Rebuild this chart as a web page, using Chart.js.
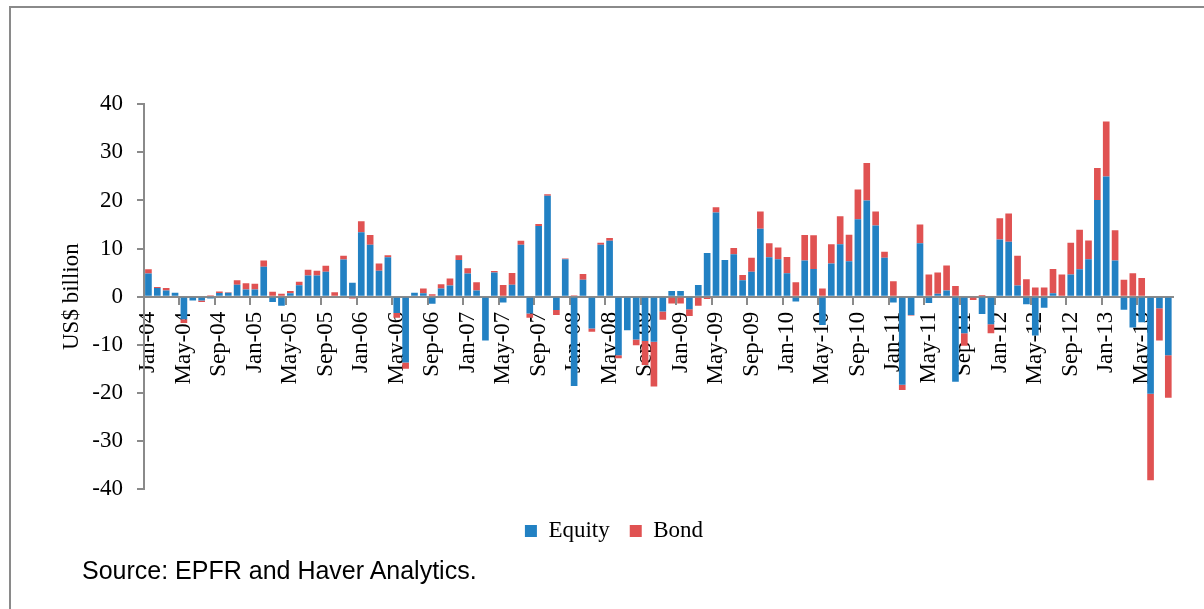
<!DOCTYPE html>
<html>
<head>
<meta charset="utf-8">
<script src="https://cdn.jsdelivr.net/npm/chart.js@4"></script>
<style>
html,body{margin:0;padding:0;background:#fff;overflow:hidden;}
#wrap{position:relative;width:1204px;height:609px;overflow:hidden;background:#fff;}
#frame{position:absolute;left:9px;top:6px;width:1300px;height:700px;border:2px solid #8a8a8a;}
#c{position:absolute;left:0;top:0;}
#src{position:absolute;left:82px;top:558px;font-family:"Liberation Sans",Arial,sans-serif;font-size:25px;line-height:25px;color:#000;white-space:nowrap;}
</style>
</head>
<body>
<div id="wrap">
  <div id="frame"></div>
  <canvas id="c" width="1204" height="609"></canvas>
  <div id="src">Source: EPFR and Haver Analytics.</div>
</div>
<script>
const categories = [
 'Jan-04','Feb-04','Mar-04','Apr-04','May-04','Jun-04','Jul-04','Aug-04','Sep-04','Oct-04','Nov-04','Dec-04',
 'Jan-05','Feb-05','Mar-05','Apr-05','May-05','Jun-05','Jul-05','Aug-05','Sep-05','Oct-05','Nov-05','Dec-05',
 'Jan-06','Feb-06','Mar-06','Apr-06','May-06','Jun-06','Jul-06','Aug-06','Sep-06','Oct-06','Nov-06','Dec-06',
 'Jan-07','Feb-07','Mar-07','Apr-07','May-07','Jun-07','Jul-07','Aug-07','Sep-07','Oct-07','Nov-07','Dec-07',
 'Jan-08','Feb-08','Mar-08','Apr-08','May-08','Jun-08','Jul-08','Aug-08','Sep-08','Oct-08','Nov-08','Dec-08',
 'Jan-09','Feb-09','Mar-09','Apr-09','May-09','Jun-09','Jul-09','Aug-09','Sep-09','Oct-09','Nov-09','Dec-09',
 'Jan-10','Feb-10','Mar-10','Apr-10','May-10','Jun-10','Jul-10','Aug-10','Sep-10','Oct-10','Nov-10','Dec-10',
 'Jan-11','Feb-11','Mar-11','Apr-11','May-11','Jun-11','Jul-11','Aug-11','Sep-11','Oct-11','Nov-11','Dec-11',
 'Jan-12','Feb-12','Mar-12','Apr-12','May-12','Jun-12','Jul-12','Aug-12','Sep-12','Oct-12','Nov-12','Dec-12',
 'Jan-13','Feb-13','Mar-13','Apr-13','May-13','Jun-13','Jul-13','Aug-13'
];

const equity = [
 4.8, 1.8, 1.3, 0.8, -4.7, -0.8, -0.8, -0.4, 0.75, 0.8, 2.5, 1.5,
 1.5, 6.2, -1.1, -1.9, 0.7, 2.35, 4.4, 4.4, 5.2, 0, 7.7, 2.9,
 13.4, 10.8, 5.4, 8.2, -3.4, -13.7, 0.8, 0.7, -1.5, 1.7, 2.3, 7.6,
 4.8, 1.3, -9.1, 5.0, -1.2, 2.5, 10.8, -3.5, 14.7, 21.0, -2.8, 7.8,
 -18.6, 3.5, -6.6, 10.8, 11.6, -12.2, -7.0, -8.9, -9.2, -9.4, -3.1, 1.2,
 1.2, -2.6, 2.4, 9.1, 17.5, 7.6, 8.8, 3.4, 5.2, 14.1, 8.2, 7.8,
 4.85, -1.0, 7.5, 5.75, -5.9, 6.9, 10.9, 7.35, 16.1, 20.0, 14.8, 8.1,
 -1.2, -18.3, -3.8, 11.1, -1.3, 0.6, 1.3, -17.7, -7.6, 0, -3.6, -5.75,
 11.9, 11.4, 2.3, -1.6, -8.1, -2.3, 0.7, 0, 4.6, 5.7, 7.8, 20.1,
 25.0, 7.5, -2.7, -6.4, -5.3, -20.2, -2.4, -12.2
];

const bond = [
 0.9, 0.2, 0.5, 0, -0.8, 0, -0.3, 0.3, 0.3, 0.1, 0.9, 1.3,
 1.2, 1.3, 1.0, 0.6, 0.5, 0.75, 1.2, 1.0, 1.25, 0.9, 0.8, -0.4,
 2.3, 2.0, 1.5, 0.4, -1.0, -1.3, 0, 1.0, 0.5, 0.9, 1.45, 1.0,
 1.1, 1.7, 0, 0.35, 2.4, 2.4, 0.8, -0.9, 0.4, 0.3, -1.0, 0.15,
 0.3, 1.2, -0.7, 0.4, 0.6, -0.6, 0, -1.2, -5.0, -9.3, -1.7, -1.4,
 -1.4, -1.4, -1.9, -0.5, 1.1, 0, 1.3, 1.1, 2.9, 3.6, 2.9, 2.4,
 3.4, 3.0, 5.3, 7.0, 1.7, 4.0, 5.8, 5.5, 6.2, 7.8, 2.9, 1.25,
 3.2, -1.1, -0.1, 3.9, 4.6, 4.4, 5.2, 2.2, -2.6, -0.7, 0.35, -1.85,
 4.4, 5.9, 6.2, 3.6, 1.9, 1.9, 5.05, 4.6, 6.6, 8.2, 3.9, 6.65,
 11.4, 6.3, 3.5, 4.85, 3.9, -18.0, -6.7, -8.8
];

const tickLabels = [
 'Jan-04','May-04','Sep-04','Jan-05','May-05','Sep-05','Jan-06','May-06','Sep-06',
 'Jan-07','May-07','Sep-07','Jan-08','May-08','Sep-08','Jan-09','May-09','Sep-09',
 'Jan-10','May-10','Sep-10','Jan-11','May-11','Sep-11','Jan-12','May-12','Sep-12',
 'Jan-13','May-13'
];

const seriesNames = ['Equity', 'Bond'];
const BLUE = '#2281C3';
const RED = '#E05252';
const AXIS = '#8a8a8a';
const SERIF = '"Liberation Serif", "Times New Roman", serif';

Chart.defaults.font.family = SERIF;

new Chart(document.getElementById('c'), {
  type: 'bar',
  data: {
    labels: categories,
    datasets: [
      {label: seriesNames[0], data: equity, backgroundColor: BLUE, borderWidth: 0, stack: 's'},
      {label: seriesNames[1], data: bond, backgroundColor: RED, borderWidth: 0, stack: 's'}
    ]
  },
  options: {
    responsive: false,
    animation: false,
    devicePixelRatio: 1,
    layout: {padding: {left: 48, right: 24, top: 104.3, bottom: 56.5}},
    datasets: {bar: {barPercentage: 0.75, categoryPercentage: 1}},
    plugins: {
      legend: {
        position: 'bottom',
        labels: {boxWidth: 12, boxHeight: 12, padding: 20, color: '#000', font: {family: SERIF, size: 23}},
        title: {display: true, text: '', font: {size: 1}, padding: {top: 9.3, bottom: 0}}
      },
      tooltip: {enabled: false}
    },
    scales: {
      x: {
        stacked: true,
        offset: true,
        position: {y: 0},
        grid: {
          offset: true,
          drawOnChartArea: false,
          drawTicks: true,
          tickLength: 7,
          lineWidth: 2,
          color: (ctx) => (ctx.index % 4 === 0 ? AXIS : 'rgba(0,0,0,0)')
        },
        border: {color: AXIS, width: 2},
        ticks: {
          autoSkip: false,
          minRotation: 90,
          maxRotation: 90,
          padding: 8,
          color: '#000',
          font: {family: SERIF, size: 23},
          callback: function (v, i) {
            const l = categories[i];
            return tickLabels.includes(l) ? l : '';
          }
        }
      },
      y: {
        stacked: true,
        min: -40,
        max: 40,
        afterFit: (s) => { s.width = 96; },
        grid: {drawOnChartArea: false, drawTicks: true, tickLength: 7, lineWidth: 2, color: AXIS},
        border: {color: AXIS, width: 2},
        ticks: {stepSize: 10, padding: 14, color: '#000', font: {family: SERIF, size: 23}},
        title: {display: true, text: 'US$ billion', color: '#000', font: {family: SERIF, size: 23}, padding: {top: 10, bottom: 0}}
      }
    }
  }
});
</script>
</body>
</html>
